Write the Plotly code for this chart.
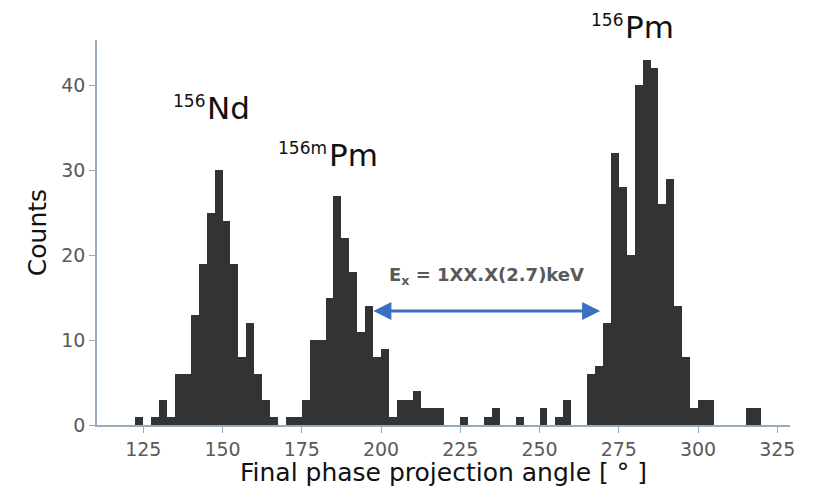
import plotly.graph_objects as go

# Histogram bins (left edges, width 2.5 deg) and counts
bin_left = [120.0, 122.5, 125.0, 127.5, 130.0, 132.5, 135.0, 137.5, 140.0, 142.5,
            145.0, 147.5, 150.0, 152.5, 155.0, 157.5, 160.0, 162.5, 165.0, 167.5,
            170.0, 172.5, 175.0, 177.5, 180.0, 182.5, 185.0, 187.5, 190.0, 192.5,
            195.0, 197.5, 200.0, 202.5, 205.0, 207.5, 210.0, 212.5, 215.0, 217.5,
            220.0, 222.5, 225.0, 227.5, 230.0, 232.5, 235.0, 237.5, 240.0, 242.5,
            245.0, 247.5, 250.0, 252.5, 255.0, 257.5, 260.0, 262.5, 265.0, 267.5,
            270.0, 272.5, 275.0, 277.5, 280.0, 282.5, 285.0, 287.5, 290.0, 292.5,
            295.0, 297.5, 300.0, 302.5, 305.0, 307.5, 310.0, 312.5, 315.0, 317.5]
counts = [0, 1, 0, 1, 3, 1, 6, 6, 13, 19,
          25, 30, 24, 19, 8, 12, 6, 3, 1, 0,
          1, 1, 3, 10, 10, 15, 27, 22, 18, 11,
          14, 8, 9, 1, 3, 3, 4, 2, 2, 2,
          0, 0, 1, 0, 0, 1, 2, 0, 0, 1,
          0, 0, 2, 0, 1, 3, 0, 0, 6, 7,
          12, 32, 28, 20, 40, 43, 42, 26, 29, 14,
          8, 2, 3, 3, 0, 0, 0, 0, 2, 2]
bin_width = 2.5

x_ticks = [125, 150, 175, 200, 225, 250, 275, 300, 325]
y_ticks = [0, 10, 20, 30, 40]
y_max = 45.3

# peak labels: mass number (superscript) + element; x = junction between them
peak_mass = ["156", "156m", "156"]
peak_elem = ["Nd", "Pm", "Pm"]
peak_x = [145.0, 183.6, 277.0]
peak_y = [37.3, 31.8, 46.8]

arrow_from = 197.1
arrow_to = 269.1
arrow_y = 13.4
ex_label = "E<sub>x</sub> = 1XX.X(2.7)keV"
x_title = "Final phase projection angle [ ° ]"
y_title = "Counts"

centers = [b + bin_width / 2 for b in bin_left]

FONT = "DejaVu Sans"
AXIS_COL = "#9AAABD"

fig = go.Figure()
fig.add_trace(go.Bar(x=centers, y=counts, width=bin_width,
                     marker=dict(color="#333333", line=dict(width=0)),
                     hoverinfo="skip"))

for m, e, x, y in zip(peak_mass, peak_elem, peak_x, peak_y):
    fig.add_annotation(x=x, y=y / y_max, xref="x", yref="paper", text=e, showarrow=False,
                       xanchor="left", yanchor="middle", xshift=-2,
                       font=dict(family=FONT, size=31, color="#111111"))
    fig.add_annotation(x=x, y=y / y_max, xref="x", yref="paper", text=m, showarrow=False,
                       xanchor="right", yanchor="middle", yshift=7,
                       font=dict(family=FONT, size=17, color="#111111"))

fig.add_annotation(x=arrow_to, y=arrow_y, ax=arrow_from, ay=arrow_y,
                   xref="x", yref="y", axref="x", ayref="y", text="",
                   showarrow=True, arrowhead=2, startarrowhead=2,
                   arrowside="end+start", arrowsize=1.2, startarrowsize=1.2,
                   arrowwidth=3, arrowcolor="#3A6FC4", standoff=0, startstandoff=0)

fig.add_annotation(x=(arrow_from + arrow_to) / 2 + 0.3, y=17.5, xref="x", yref="y",
                   text="<b>" + ex_label + "</b>", showarrow=False,
                   font=dict(family=FONT, size=18, color="#595959"))

fig.add_annotation(x=0.5, y=0, xref="paper", yref="paper", yshift=-47,
                   text=x_title, showarrow=False, xanchor="center", yanchor="middle",
                   font=dict(family=FONT, size=25, color="#111111"))

fig.update_layout(
    width=823, height=490,
    margin=dict(l=97, r=33, t=40, b=65),
    paper_bgcolor="white", plot_bgcolor="white",
    bargap=0, showlegend=False,
    font=dict(family=FONT),
)

fig.update_xaxes(range=[110.4, 329.0], tickvals=x_ticks, showgrid=False, zeroline=False,
                 showline=True, linecolor=AXIS_COL, linewidth=1.5,
                 ticks="outside", ticklen=6, tickcolor=AXIS_COL,
                 tickfont=dict(family=FONT, size=19, color="#5a5a5a"))
fig.update_yaxes(range=[0, y_max], tickvals=y_ticks, showgrid=False, zeroline=False,
                 showline=True, linecolor=AXIS_COL, linewidth=1.5,
                 ticks="outside", ticklen=6, tickcolor=AXIS_COL,
                 tickfont=dict(family=FONT, size=19, color="#5a5a5a"),
                 title=dict(text=y_title, font=dict(family=FONT, size=25, color="#111111"),
                            standoff=8))

fig.write_html("out.html")
